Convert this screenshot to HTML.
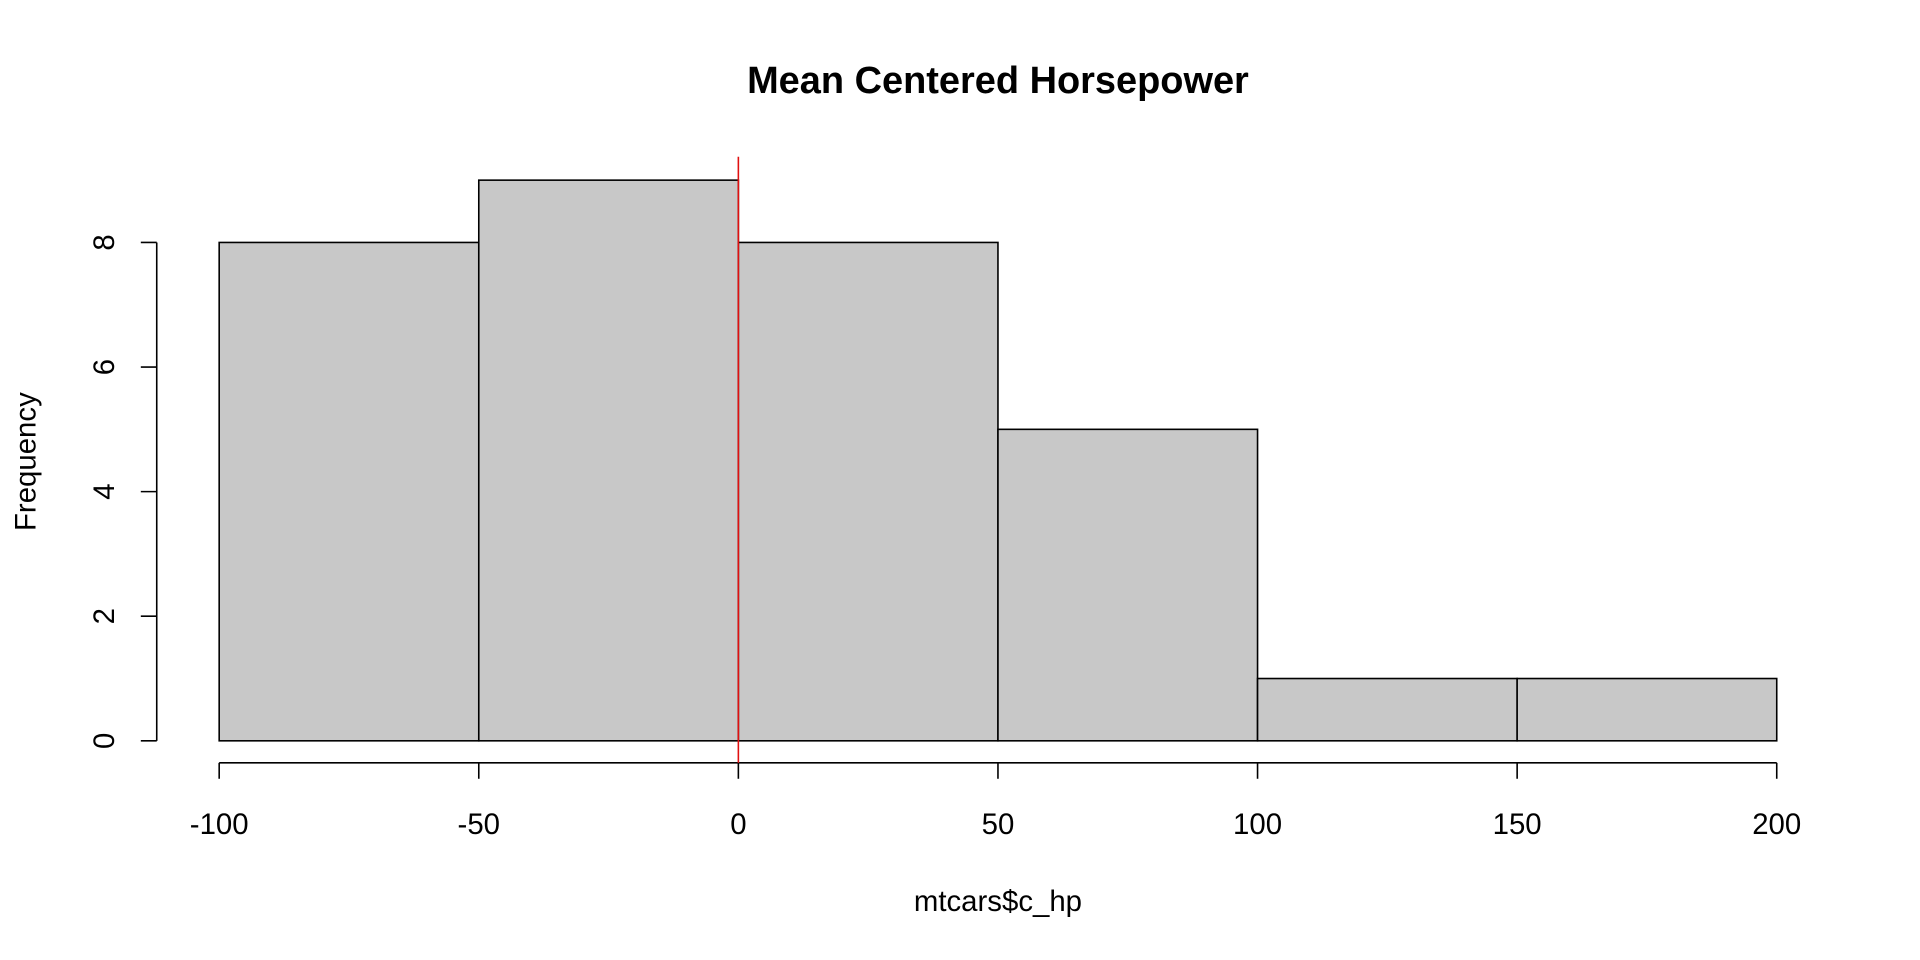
<!DOCTYPE html>
<html><head><meta charset="utf-8"><style>html,body{margin:0;padding:0;background:#fff}svg{display:block}</style></head>
<body>
<svg width="1920" height="960" viewBox="0 0 1568 784" preserveAspectRatio="none" xmlns="http://www.w3.org/2000/svg" font-family="Liberation Sans, Arial, sans-serif">
<rect width="1568" height="784" fill="#fff"/>
<text x="815" y="76" text-anchor="middle" font-size="31" font-weight="bold">Mean Centered Horsepower</text>
<text x="815" y="744" text-anchor="middle" font-size="24">mtcars$c_hp</text>
<text transform="translate(29,377) rotate(-90)" text-anchor="middle" font-size="24">Frequency</text>
<g id="bars"></g><g id="xaxis"></g><g id="yaxis"></g><g id="ref"></g>
</svg>
<script>
const breaks = [-100, -50, 0, 50, 100, 150, 200];
const counts = [8, 9, 8, 5, 1, 1];
const xTicks = [-100, -50, 0, 50, 100, 150, 200];
const yTicks = [0, 2, 4, 6, 8];
const refValue = 0;
const NS = "http://www.w3.org/2000/svg";
const X = v => 179 + (v + 100) * (1451 - 179) / 300;
const Y = v => 605 - v * (605 - 198) / 8;
function mk(tag, attrs, parent) { const e = document.createElementNS(NS, tag); for (const k in attrs) e.setAttribute(k, attrs[k]); parent.appendChild(e); return e; }
const bars = document.getElementById('bars');
counts.forEach((c, i) => {
  const r = mk('rect', {x: X(breaks[i]), y: Y(c), width: X(breaks[i+1]) - X(breaks[i]), height: Y(0) - Y(c), fill: '#c8c8c8', stroke: '#000', 'stroke-width': 1.3}, bars);
  
  
});
const xa = document.getElementById('xaxis');
const xl = mk('line', {x1: X(xTicks[0]), x2: X(xTicks[xTicks.length-1]), y1: 623, y2: 623, stroke: '#000', 'stroke-width': 1.3}, xa);


xTicks.forEach(t => {
  mk('line', {x1: X(t), x2: X(t), y1: 623, y2: 636, stroke: '#000', 'stroke-width': 1.3}, xa);
  const tx = mk('text', {x: X(t), y: 681, 'text-anchor': 'middle', 'font-size': 24}, xa);
  tx.textContent = t;
  
  
});
const ya = document.getElementById('yaxis');
const yl = mk('line', {x1: 128, x2: 128, y1: Y(yTicks[0]), y2: Y(yTicks[yTicks.length-1]), stroke: '#000', 'stroke-width': 1.3}, ya);


yTicks.forEach(t => {
  mk('line', {x1: 115, x2: 128, y1: Y(t), y2: Y(t), stroke: '#000', 'stroke-width': 1.3}, ya);
  const tx = mk('text', {transform: `translate(93,${Y(t)}) rotate(-90)`, 'text-anchor': 'middle', 'font-size': 24}, ya);
  tx.textContent = t;
  
  
});
const rl = mk('line', {x1: X(refValue), x2: X(refValue), y1: 128, y2: 623, stroke: '#e01010', 'stroke-width': 1.3}, document.getElementById('ref'));


</script>
</body></html>
